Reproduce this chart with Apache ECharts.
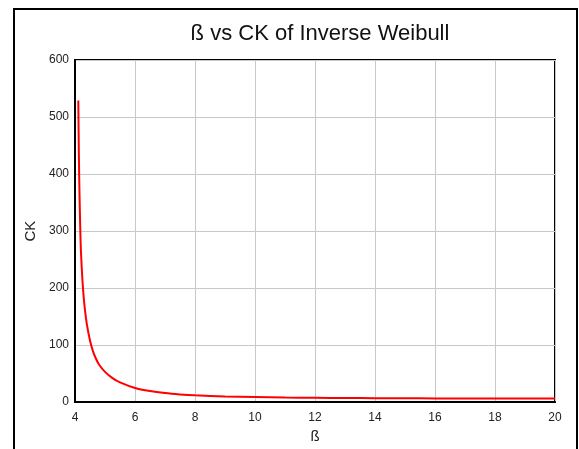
<!DOCTYPE html>
<html>
<head>
<meta charset="utf-8">
<script src="https://cdn.jsdelivr.net/npm/echarts@6/dist/echarts.min.js"></script>
<style>html,body{margin:0;padding:0;background:#fff}#c{width:579px;height:449px}</style>
</head>
<body>
<div id="c"></div>
<script>
const betaValues = [4.11, 4.13, 4.15, 4.18, 4.2, 4.25, 4.3, 4.35, 4.4, 4.5, 4.6, 4.7, 4.8, 5, 5.25, 5.5, 6, 6.5, 7, 7.5, 8, 9, 10, 11, 12, 13, 14, 15, 16, 17, 18, 19, 20];
const ckValues   = [529, 430, 365, 295, 262, 212, 178, 154, 135, 108, 89, 76, 66, 53, 42, 34.5, 24.7, 19.3, 15.8, 13.5, 11.9, 9.9, 8.8, 8.0, 7.5, 7.1, 6.9, 6.7, 6.5, 6.4, 6.3, 6.2, 6.1];
const xTicks = {min: 4, max: 20, interval: 2};
const yTicks = {min: 0, max: 600, interval: 100};

const seriesData = betaValues.map((b, i) => [b, ckValues[i]]);
const chart = echarts.init(document.getElementById('c'), null, {renderer: 'canvas'});
const font = 'Liberation Sans, Arial, sans-serif';
chart.setOption({
  backgroundColor: '#fff',
  animation: false,
  title: {
    text: 'ß vs CK of Inverse Weibull',
    left: 315, top: 18, textAlign: 'center',
    textStyle: {fontFamily: font, fontSize: 22, fontWeight: 'normal', color: '#111'}
  },
  graphic: [{
    type: 'rect', shape: {x: 14, y: 9, width: 563, height: 460},
    style: {fill: null, stroke: '#000', lineWidth: 2}, silent: true
  }],
  grid: {left: 75, top: 60, right: 24, bottom: 45, show: true, borderColor: '#000', borderWidth: 2, containLabel: false},
  xAxis: {
    type: 'value', min: xTicks.min, max: xTicks.max, interval: xTicks.interval,
    name: 'ß', nameLocation: 'middle', nameGap: 26,
    nameTextStyle: {fontFamily: font, fontSize: 15, color: '#222'},
    axisLine: {show: true, lineStyle: {color: '#000', width: 2}},
    axisTick: {show: false},
    axisLabel: {fontFamily: font, fontSize: 12, color: '#222', margin: 10},
    splitLine: {show: true, lineStyle: {color: '#c8c8c8', width: 1}}
  },
  yAxis: {
    type: 'value', min: yTicks.min, max: yTicks.max, interval: yTicks.interval,
    name: 'CK', nameLocation: 'middle', nameGap: 36,
    nameTextStyle: {fontFamily: font, fontSize: 15, color: '#222'},
    axisLine: {show: true, lineStyle: {color: '#000', width: 2}},
    axisTick: {show: false},
    axisLabel: {fontFamily: font, fontSize: 12, color: '#222', margin: 6},
    splitLine: {show: true, lineStyle: {color: '#c8c8c8', width: 1}}
  },
  series: [{
    type: 'line', data: seriesData, smooth: 0.3, showSymbol: false,
    lineStyle: {color: '#ff0000', width: 2}
  }]
});
</script>
</body>
</html>
